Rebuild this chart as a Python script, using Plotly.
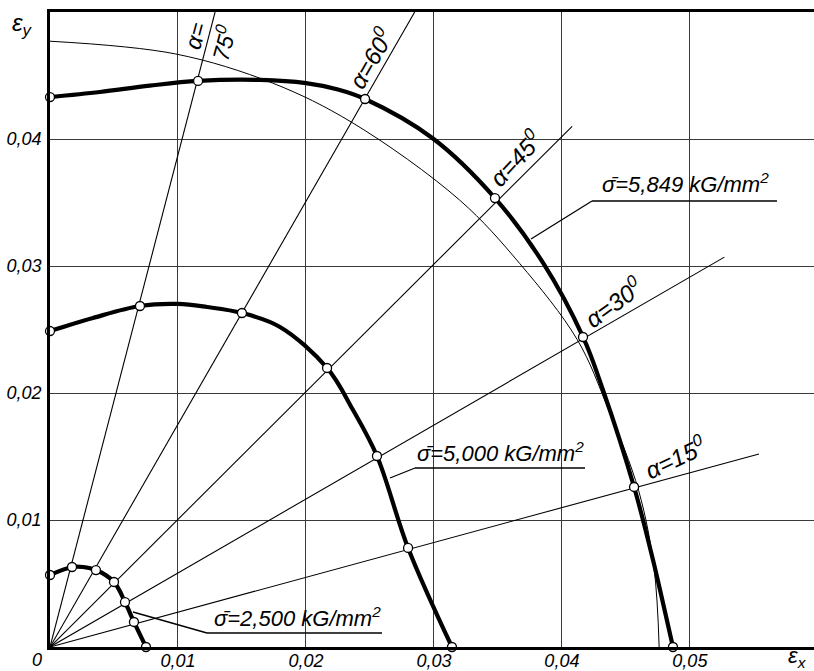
import plotly.graph_objects as go

# ---------------- data ----------------
ray_alpha = [15, 30, 45, 60, 75]
ray_end_x = [0.0554, 0.0527, 0.0408, 0.0285, 0.0129]
ray_end_y = [0.0152, 0.0307, 0.0410, 0.0500, 0.0500]

# marked points (alpha = 90, 75, 60, 45, 30, 15, 0)
s2500_x = [0.0, 0.00172, 0.00359, 0.00500, 0.00586, 0.00656, 0.00750]
s2500_y = [0.00567, 0.00630, 0.00606, 0.00512, 0.00354, 0.00197, 0.0]
s5000_x = [0.0, 0.00703, 0.01500, 0.02165, 0.02555, 0.02798, 0.03141]
s5000_y = [0.02488, 0.02685, 0.02630, 0.02197, 0.01504, 0.00780, 0.0]
s5849_x = [0.0, 0.01157, 0.02462, 0.03477, 0.04165, 0.04564, 0.04868]
s5849_y = [0.04330, 0.04457, 0.04315, 0.03535, 0.02441, 0.01260, 0.0]

# curve paths
p2500_x = [0.0, 0.00172, 0.00258, 0.00359, 0.00500, 0.00586, 0.00656, 0.00750]
p2500_y = [0.00567, 0.00630, 0.00630, 0.00606, 0.00512, 0.00354, 0.00197, 0.0]
p5000_x = [0.0, 0.00336, 0.00703, 0.01000, 0.01227, 0.01500, 0.01797, 0.02165,
           0.02368, 0.02555, 0.02798, 0.03141]
p5000_y = [0.02488, 0.02591, 0.02685, 0.02701, 0.02677, 0.02630, 0.02520, 0.02197,
           0.01866, 0.01504, 0.00780, 0.0]
p5849_x = [0.0, 0.00390, 0.00780, 0.01157, 0.01641, 0.02000, 0.02250, 0.02462,
           0.02990, 0.03477, 0.03853, 0.04165, 0.04321, 0.04564, 0.04712,
           0.04767, 0.04868]
p5849_y = [0.04330, 0.04370, 0.04420, 0.04457, 0.04465, 0.04440, 0.04390, 0.04315,
           0.04006, 0.03535, 0.03024, 0.02441, 0.02024, 0.01260, 0.00685,
           0.00449, 0.0]

# thin reference arc
arc_x = [0.0, 0.0098, 0.0174, 0.0236, 0.0320, 0.0367, 0.0412, 0.0436, 0.0460, 0.0472, 0.0476]
arc_y = [0.0477, 0.0467, 0.0444, 0.0413, 0.0352, 0.0302, 0.0242, 0.0188, 0.0123, 0.0062, 0.0]

x_ticks = [0.01, 0.02, 0.03, 0.04, 0.05]
x_ticktext = ["0,01", "0,02", "0,03", "0,04", "0,05"]
y_ticks = [0.01, 0.02, 0.03, 0.04, 0.05]
y_ticktext = ["0,01", "0,02", "0,03", "0,04", " "]

# ---------------- layout helpers ----------------
W, H = 814, 671
ML, MR, MT, MB = 50, 0, 12, 24
XR = [0, 0.0597]
YR = [0, 0.05]
PW, PH = W - ML - MR, H - MT - MB


def px(xp, yp):
    """pixel position of the page -> data coordinates"""
    x = XR[0] + (xp - ML) / PW * (XR[1] - XR[0])
    y = YR[0] + (H - MB - yp) / PH * (YR[1] - YR[0])
    return x, y


def pp(xp, yp):
    """pixel position of the page -> paper coordinates"""
    return (xp - ML) / PW, (H - MB - yp) / PH


FONT = "Liberation Sans, Arial, sans-serif"

fig = go.Figure()

# rays
for a, ex, ey in zip(ray_alpha, ray_end_x, ray_end_y):
    fig.add_trace(go.Scatter(x=[0, ex], y=[0, ey], mode="lines",
                             line=dict(color="black", width=1.1),
                             hoverinfo="skip", showlegend=False))

# thin arc
fig.add_trace(go.Scatter(x=arc_x, y=arc_y, mode="lines", line_shape="spline",
                         line=dict(color="black", width=1),
                         hoverinfo="skip", showlegend=False))

# thick curves
for cx, cy in [(p2500_x, p2500_y), (p5000_x, p5000_y), (p5849_x, p5849_y)]:
    fig.add_trace(go.Scatter(x=cx, y=cy, mode="lines", line_shape="spline",
                             line=dict(color="black", width=4.2),
                             hoverinfo="skip", showlegend=False))

# markers
for mx, my in [(s2500_x, s2500_y), (s5000_x, s5000_y), (s5849_x, s5849_y)]:
    fig.add_trace(go.Scatter(x=mx, y=my, mode="markers", cliponaxis=False,
                             marker=dict(symbol="circle", size=9, color="white",
                                         line=dict(color="black", width=1.3)),
                             hoverinfo="skip", showlegend=False))

shapes = []
annotations = []


def seg(p1, p2, w=1.3):
    (x0, y0), (x1, y1) = px(*p1), px(*p2)
    shapes.append(dict(type="line", xref="x", yref="y", x0=x0, y0=y0, x1=x1, y1=y1,
                       line=dict(color="black", width=w)))


def text(p, s, size, angle=0):
    x, y = pp(*p)
    annotations.append(dict(x=x, y=y, xref="paper", yref="paper", text=s, showarrow=False,
                            textangle=angle, xanchor="center", yanchor="middle",
                            font=dict(family=FONT, size=size, color="black", style="italic")))


# sigma labels with leaders and underlines
sig = "\u03c3\u0304"
text((685, 183), sig + "=5,849 kG/mm<sup>2</sup>", 22)
seg((592, 201), (777, 201))
seg((592, 201), (531, 239))

text((500, 452), sig + "=5,000 kG/mm<sup>2</sup>", 22)
seg((415, 468), (585, 468))
seg((415, 468), (390, 478))

text((297, 617), sig + "=2,500 kG/mm<sup>2</sup>", 22)
seg((207, 633), (382, 633))
seg((207, 633), (133, 612))

# alpha labels
text((210, 40), "\u03b1=<br>75<sup>0</sup>", 23, -75)
text((370, 58), "\u03b1=60<sup>0</sup>", 24, -60)
text((515, 158), "\u03b1=45<sup>0</sup>", 24, -47)
text((613, 302), "\u03b1=30<sup>0</sup>", 24, -36)
text((675, 457), "\u03b1=15<sup>0</sup>", 24, -25)

# axis symbols
text((23, 24), "\u03b5<sub>y</sub>", 24)
text((797, 657), "\u03b5<sub>x</sub>", 22)
text((37, 660), "0", 18)

fig.update_layout(
    width=W, height=H,
    margin=dict(l=ML, r=MR, t=MT, b=MB, autoexpand=False),
    paper_bgcolor="white", plot_bgcolor="white",
    shapes=shapes, annotations=annotations,
    xaxis=dict(range=XR, tickvals=x_ticks, ticktext=x_ticktext, automargin=False,
               showgrid=True, gridcolor="#3a3a3a", gridwidth=1,
               showline=True, linecolor="black", linewidth=2.5, mirror=True,
               zeroline=False, ticks="", ticklabelstandoff=-4,
               tickfont=dict(family=FONT, size=18, color="black", style="italic")),
    yaxis=dict(range=YR, tickvals=y_ticks, ticktext=y_ticktext, automargin=False,
               showgrid=True, gridcolor="#3a3a3a", gridwidth=1,
               showline=True, linecolor="black", linewidth=2.5,
               zeroline=False, ticks="", ticklabelstandoff=2,
               tickfont=dict(family=FONT, size=18, color="black", style="italic")),
)

fig.write_html("out.html", config={"displayModeBar": False},
               post_script="document.body.style.margin='0px';document.body.style.overflow='hidden';")
